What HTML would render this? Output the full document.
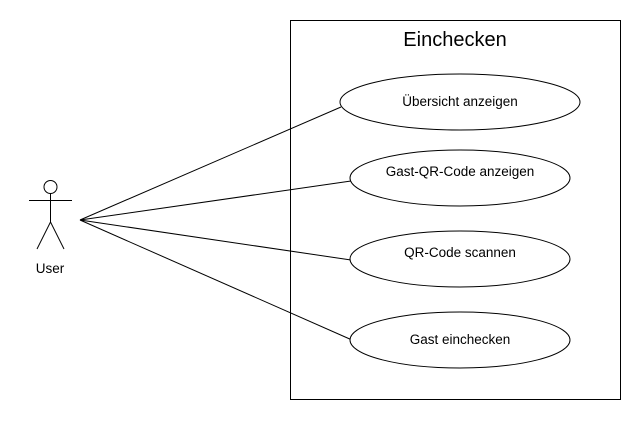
<!DOCTYPE html>
<html><head><style>body{margin:0;background:#fff}</style></head><body>
<svg width="640" height="420" xmlns="http://www.w3.org/2000/svg" font-family="Liberation Sans, Arial, sans-serif">
<rect x="290.5" y="20.5" width="330" height="379" fill="#fff" stroke="#000"/>
<text x="455" y="46" font-size="20" text-anchor="middle">Einchecken</text>
<g stroke="#000" fill="none">
<line x1="80" y1="220" x2="341" y2="107"/>
<line x1="80" y1="220" x2="351" y2="181"/>
<line x1="80" y1="220" x2="351" y2="260"/>
<line x1="80" y1="220" x2="352" y2="340"/>
<circle cx="50.5" cy="187" r="6.5"/>
<line x1="50.5" y1="193.5" x2="50.5" y2="222"/>
<line x1="29" y1="200.5" x2="72" y2="200.5"/>
<line x1="50.5" y1="222" x2="37" y2="249"/>
<line x1="50.5" y1="222" x2="64" y2="249"/>
</g>
<g stroke="#000" fill="#fff">
<ellipse cx="460" cy="102" rx="120" ry="28"/>
<ellipse cx="460" cy="178" rx="110" ry="28"/>
<ellipse cx="460" cy="259" rx="110" ry="28"/>
<ellipse cx="460" cy="340" rx="110" ry="28"/>
</g>
<g font-size="13.5" text-anchor="middle">
<text x="460" y="106">Übersicht anzeigen</text>
<text x="460" y="176">Gast-QR-Code anzeigen</text>
<text x="460" y="257">QR-Code scannen</text>
<text x="460" y="344">Gast einchecken</text>
<text x="50" y="273">User</text>
</g>
</svg>
</body></html>
